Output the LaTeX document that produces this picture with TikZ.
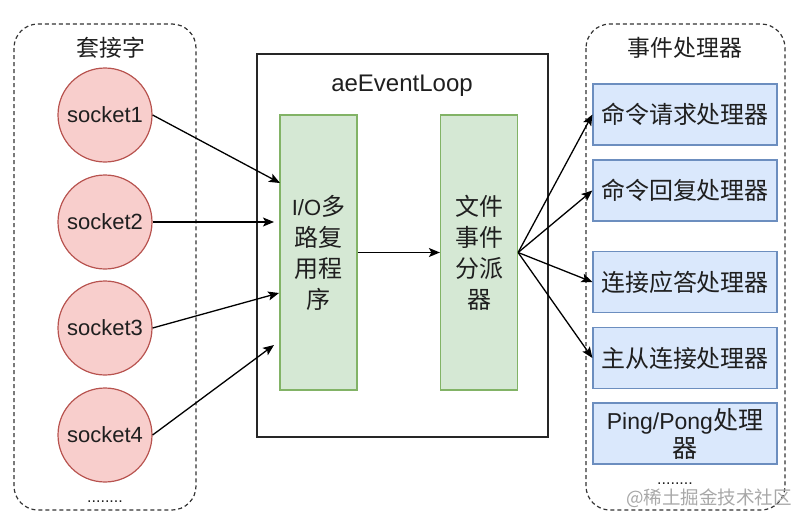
\documentclass[tikz,border=0pt]{standalone}
\usepackage{fontspec}
\setmainfont{Liberation Sans}
\newfontfamily\cjk{Noto Sans CJK SC}[Scale=1.09]
\usetikzlibrary{arrows.meta}
\newcommand\zh[1]{{\cjk #1}}
\definecolor{redfill}{HTML}{F8CECC}
\definecolor{redline}{HTML}{B85450}
\definecolor{greenfill}{HTML}{D5E8D4}
\definecolor{greenline}{HTML}{82B366}
\definecolor{bluefill}{HTML}{DAE8FC}
\definecolor{blueline}{HTML}{6C8EBF}
\definecolor{wmgray}{HTML}{A8A8A8}
\tikzset{
  txt/.style={font=\fontsize{22}{30}\selectfont, text=black!88, inner sep=0pt},
  group/.style={draw=black!80, line width=1.2pt, dash pattern=on 4pt off 3pt, rounded corners=24pt},
  sock/.style={circle, draw=redline, fill=redfill, line width=1.2pt, minimum size=94pt, inner sep=0pt, txt},
  greenbox/.style={draw=greenline, fill=greenfill, line width=1.2pt, minimum width=77pt, minimum height=275pt, inner sep=0pt, txt, align=center},
  bluebox/.style={draw=blueline, fill=bluefill, line width=1.2pt, minimum width=184pt, minimum height=61pt, inner sep=0pt, txt, align=center},
  conn/.style={draw=black, line width=1.3pt, -{Stealth[length=11pt,width=9pt,inset=2.5pt]}},
}
\begin{document}
\begin{tikzpicture}[x=1pt,y=-1pt]
\useasboundingbox (0,0) rectangle (800,525);
% groups
\draw[group] (14,24) rectangle (196,510);
\draw[group] (586,24) rectangle (785,510);
\node[txt, font=\fontsize{21}{26}\selectfont] (lt) at (111,48) {\zh{套接字}};
\node[txt, font=\fontsize{21}{26}\selectfont] (rt) at (685,48) {\zh{事件处理器}};
% event loop
\node[draw=black!85, line width=1.2pt, minimum width=291pt, minimum height=383pt, inner sep=0pt] (loop) at (402.5,245.5) {};
\node[txt, font=\fontsize{24}{28}\selectfont] (lname) at (402,86) {aeEventLoop};
\node[greenbox, font=\fontsize{22}{31}\selectfont] (io) at (318.5,252.5) {I/O\zh{多}\\\zh{路复}\\\zh{用程}\\\zh{序}};
\node[greenbox, font=\fontsize{22}{31}\selectfont] (disp) at (479,252.5) {\zh{文件}\\\zh{事件}\\\zh{分派}\\\zh{器}};
% sockets
\node[sock] (s1) at (105,115) {socket1};
\node[sock] (s2) at (105,222) {socket2};
\node[sock] (s3) at (105,328) {socket3};
\node[sock] (s4) at (105,435) {socket4};
\node[txt, font=\fontsize{16}{18}\selectfont] (ldots) at (105,502) {........};
% handlers
\node[bluebox] (h1) at (685,114.5) {\zh{命令请求处理器}};
\node[bluebox] (h2) at (685,190.5) {\zh{命令回复处理器}};
\node[bluebox] (h3) at (685,282) {\zh{连接应答处理器}};
\node[bluebox] (h4) at (685,358) {\zh{主从连接处理器}};
\node[bluebox, font=\fontsize{23}{28}\selectfont] (h5) at (685,433.5) {Ping/Pong\zh{处理}\\\zh{器}};
\node[txt, font=\fontsize{16}{18}\selectfont] (rdots) at (675,484) {........};
% input points
\coordinate (i1) at (280,183);
\coordinate (i2) at (274,222);
\coordinate (i3) at (279,293);
\coordinate (i4) at (274,345);
\draw[conn] (s1.east) -- (i1);
\draw[conn] (s2.east) -- (i2);
\draw[conn] (s3.east) -- (i3);
\draw[conn] (s4.east) -- (i4);
\draw[conn] (io.east) -- (disp.west);
\draw[conn] (disp.east) -- (h1.west);
\draw[conn] (disp.east) -- (h2.west);
\draw[conn] (disp.east) -- (h3.west);
\draw[conn] (disp.east) -- (h4.west);
% watermark
\node[inner sep=0pt, text=wmgray, font=\fontsize{17}{20}\cjk] (wm) at (709,498) {@稀土掘金技术社区};
\end{tikzpicture}
\end{document}
